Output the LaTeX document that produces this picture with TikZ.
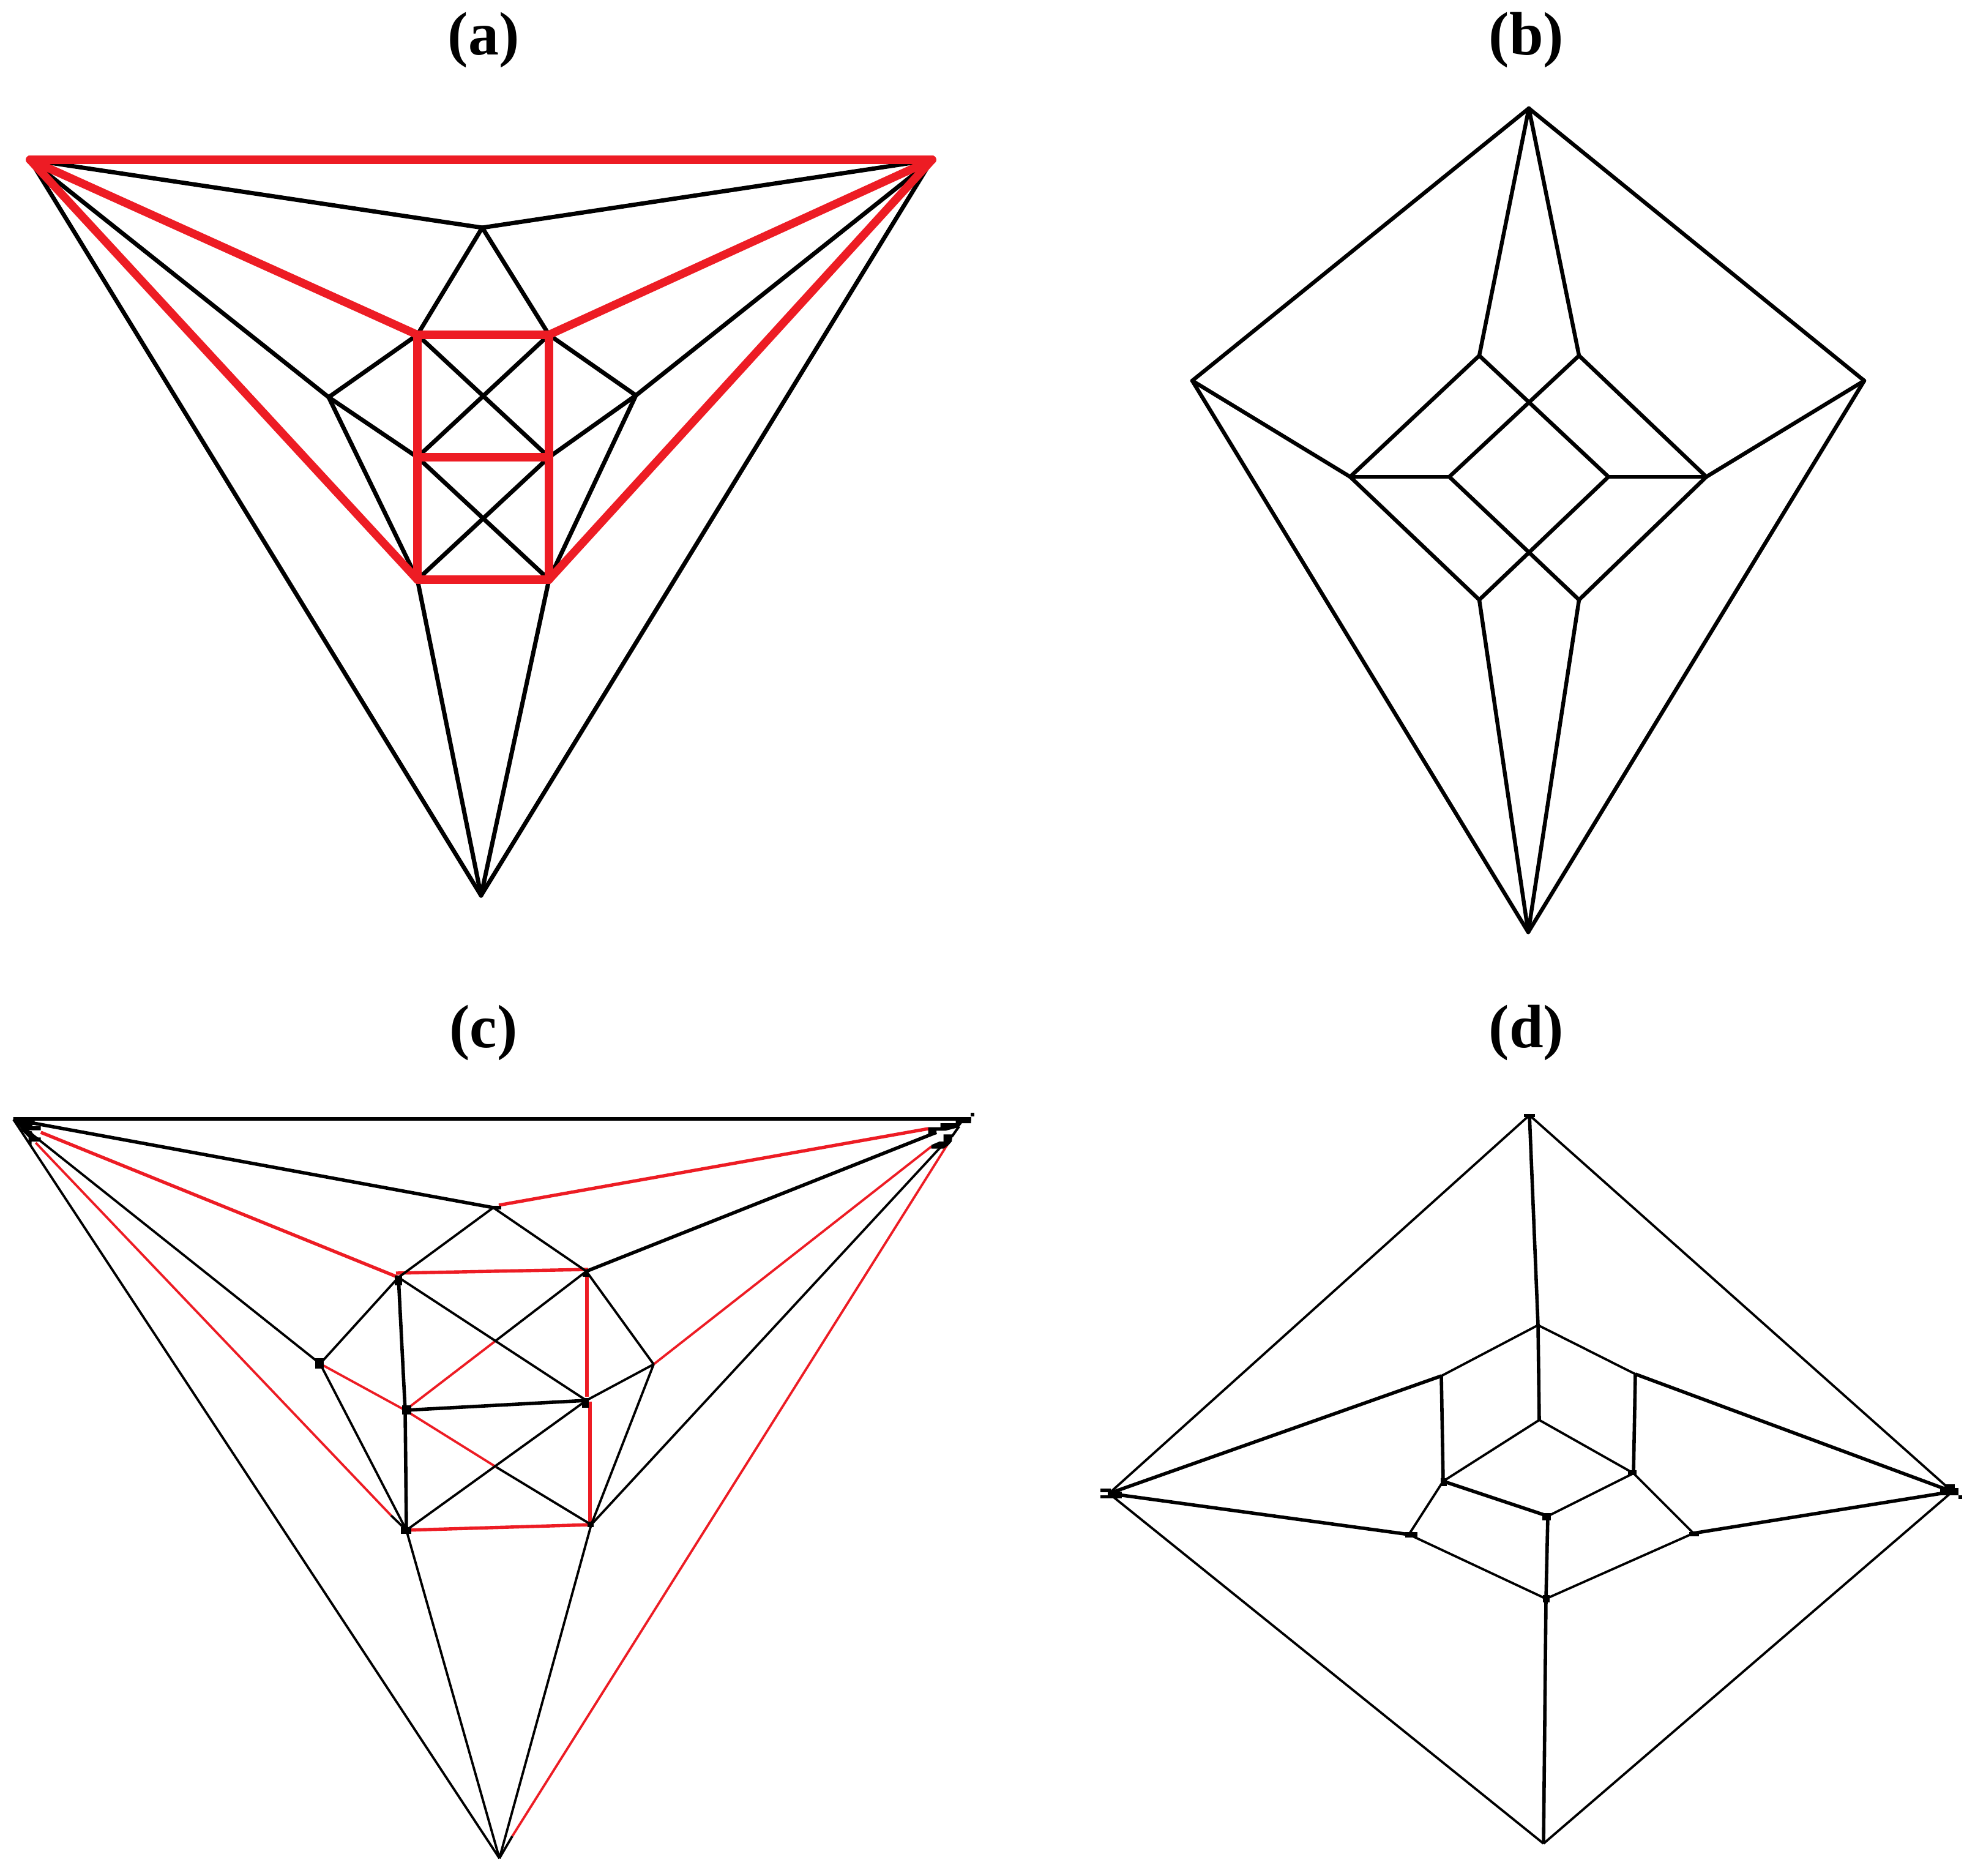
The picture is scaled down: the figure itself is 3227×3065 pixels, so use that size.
\documentclass[tikz,border=0pt]{standalone}
\usepackage{fontspec}
\setmainfont{Liberation Serif}
\definecolor{gred}{HTML}{ED1C24}
\tikzset{
  ablk/.style={black,line width=3.5pt,line cap=round},
  ared/.style={gred,line width=6.7pt,line cap=round},
  bblk/.style={black,line width=3.2pt,line cap=round},
  cthin/.style={black,line width=1.9pt},
  cthick/.style={black,line width=2.8pt},
  rthin/.style={gred,line width=1.9pt},
  rthick/.style={gred,line width=2.7pt},
  lbl/.style={font=\bfseries\fontsize{50pt}{60pt}\selectfont,anchor=base,inner sep=0pt}
}
\begin{document}
\begin{tikzpicture}[x=0.5pt,y=-0.5pt]
\useasboundingbox (0,0) rectangle (3227,3065);
\fill[white] (0,0) rectangle (3227,3065);
% labels
\node[lbl] (la) at (790,90) {(a)};
\node[lbl] (lb) at (2494,90) {(b)};
\node[lbl] (lc) at (790,1711) {(c)};
\node[lbl] (ld) at (2494,1711) {(d)};
% ---------- (a)
\coordinate (aTL) at (49,261); \coordinate (aTR) at (1523,261); \coordinate (aB) at (786,1463);
\coordinate (at) at (788,372);
\coordinate (aA) at (682,547); \coordinate (aAp) at (897,547);
\coordinate (aL) at (537,649); \coordinate (aR) at (1039,646);
\coordinate (aMl) at (682,747); \coordinate (aMr) at (897,747);
\coordinate (aBL) at (682,947); \coordinate (aBR) at (897,947);
\foreach \p/\q in {aTL/at,aTR/at,at/aA,at/aAp,aTL/aL,aTR/aR,aTL/aB,aTR/aB,aL/aA,aL/aMl,aL/aBL,aR/aAp,aR/aMr,aR/aBR,aA/aMr,aAp/aMl,aMl/aBR,aMr/aBL,aBL/aB,aBR/aB}
  \draw[ablk] (\p) -- (\q);
\foreach \p/\q in {aTL/aTR,aTL/aA,aTR/aAp,aTL/aBL,aTR/aBR,aA/aAp,aA/aBL,aAp/aBR,aMl/aMr,aBL/aBR}
  \draw[ared] (\p) -- (\q);
% ---------- (b)
\coordinate (bT) at (2498,177); \coordinate (bL) at (1948,622); \coordinate (bR) at (3046,622); \coordinate (bB) at (2497,1523);
\coordinate (ba1) at (2417,581); \coordinate (ba2) at (2580,581);
\coordinate (bb1) at (2206,779); \coordinate (bb2) at (2368,779); \coordinate (bb3) at (2628,779); \coordinate (bb4) at (2788,779);
\coordinate (bc1) at (2417,980); \coordinate (bc2) at (2580,980);
\foreach \p/\q in {bT/bL,bT/bR,bT/ba1,bT/ba2,bL/bb1,bR/bb4,bL/bB,bR/bB,bB/bc1,bB/bc2,bb1/bb2,bb3/bb4,ba1/bb1,ba2/bb4,bc1/bb1,bc2/bb4,ba1/bb3,ba2/bb2,bb2/bc2,bb3/bc1}
  \draw[bblk] (\p) -- (\q);
% ---------- (c)
\coordinate (cTL) at (22,1829); \coordinate (cTR) at (1578,1831); \coordinate (cB) at (816,3036);
\coordinate (cTLt) at (22,1828); \coordinate (cTRt) at (1587,1828);
\coordinate (cTLa) at (66.7,1850); \coordinate (cTLb) at (58.3,1867);
\coordinate (cTRa) at (1517,1844); \coordinate (cTRr) at (1522,1873); \coordinate (cTRb) at (1553,1862);
\coordinate (cTRk) at (1530,1850); \coordinate (cTRq) at (1550,1860);
\coordinate (cBr) at (837,3000); \coordinate (cBLr) at (639,2476);
\coordinate (ct) at (806,1973); \coordinate (ctr) at (815,1969);
\coordinate (cA) at (651,2087); \coordinate (cAr) at (647,2080);
\coordinate (cAp) at (958,2077); \coordinate (cApr) at (961,2074);
\coordinate (cL) at (523,2228); \coordinate (cR) at (1068,2229);
\coordinate (cMl) at (662,2304); \coordinate (cMr) at (958,2288);
\coordinate (cBL) at (664,2500); \coordinate (cBR) at (966,2491);
\coordinate (cC1) at (808,2192); \coordinate (cC2) at (811,2397);
\coordinate (cVa) at (959,2085); \coordinate (cVb) at (959,2282);
\coordinate (cVc) at (964,2290); \coordinate (cVd) at (964,2491);
% red parts
\draw[rthick] (cTLa) -- (cA);
\draw[rthin] (cTLb) -- (cBLr);
\draw[rthick] (ctr) -- (cTRa);
\draw[rthin] (cR) -- (cTRr);
\draw[rthin] (cBr) -- (cTRb);
\draw[rthick] (cAr) -- (cApr);
\draw[rthick] (cBL) -- (cBR);
\draw[rthin] (cL) -- (cMl);
\draw[rthin] (cMl) -- (cC1);
\draw[rthin] (cMl) -- (cC2);
\draw[rthick] (cVa) -- (cVb);
\draw[rthick] (cVc) -- (cVd);
% black parts
\draw[cthick] (cTLt) -- (cTRt);
\draw[cthick] (cTL) -- (ct);
\draw[cthick] (cAp) -- (cTRk);
\foreach \p/\q in {cTL/cL,cTL/cB,ct/cA,ct/cAp,cA/cL,cL/cBL,cAp/cR,cMr/cR,cR/cBR,cA/cMr,cAp/cC1,cC2/cBR,cMr/cBL,cBL/cB,cBR/cB,cBR/cTRq,cBr/cB,cBLr/cBL}
  \draw[cthin] (\p) -- (\q);
\draw[cthick] (cA) -- (cMl);
\draw[cthick] (cMl) -- (cBL);
\draw[cthick] (cMl) -- (cMr);
% vertex blobs of (c)
\fill[black] (21.7,1825) -- (56.7,1825) -- (56.7,1835) -- (51.7,1840) -- (66.7,1840) -- (66.7,1846.7) -- (41.7,1846.7) -- (51.7,1848.3) -- (56.7,1858.3) -- (66.7,1858.3) -- (66.7,1865) -- (51.7,1865) -- (51.7,1870) -- (46.7,1870) -- (46.7,1858.3) -- (36.7,1848.3) -- (31.7,1840) -- (26.7,1835) -- (21.7,1830) -- cycle;
\fill[black] (1516.7,1841.7) -- (1536.7,1841.7) -- (1536.7,1835) -- (1561.7,1835) -- (1561.7,1829.3) -- (1586.7,1829.3) -- (1586.7,1835) -- (1571.7,1835) -- (1566.7,1841.7) -- (1545,1847.3) -- (1530,1847.3) -- (1530,1853.3) -- (1516.7,1853.3) -- cycle;
\fill[black] (1541.7,1853.3) -- (1556.7,1853.3) -- (1555,1865) -- (1550,1870.7) -- (1541.7,1876.7) -- (1521.7,1876.7) -- (1521.7,1870.7) -- (1535,1865) -- (1541.7,1865) -- cycle;
\fill[black] (1552,1858) -- (1564,1841) -- (1569,1841) -- (1557,1858) -- cycle;
\fill[black] (1586,1818) rectangle (1592,1824);
\fill[black] (645,2084) rectangle (657,2100);
\fill[black] (657,2296) rectangle (672,2311);
\fill[black] (515,2219) rectangle (529,2236);
\fill[black] (951,2284) rectangle (962,2300);
\fill[black] (655,2495) rectangle (672,2506);
\fill[black] (800,1970) rectangle (819,1976);
\fill[black] (952,2080) rectangle (962,2086);
\fill[black] (960,2486) rectangle (970,2495);
% ---------- (d)
\coordinate (dT) at (2499,1822); \coordinate (dL) at (1812,2440); \coordinate (dR) at (3190,2437); \coordinate (dB) at (2522,3012);
\coordinate (dp) at (2513,2165); \coordinate (dUL) at (2355,2248); \coordinate (dUR) at (2672,2245);
\coordinate (dIT) at (2515,2320); \coordinate (dIL) at (2358,2420); \coordinate (dIR) at (2669,2407);
\coordinate (dCC) at (2529,2477); \coordinate (dOL) at (2302,2507); \coordinate (dOR) at (2767,2505);
\coordinate (dLW) at (2526,2612);
\foreach \p/\q in {dT/dL,dT/dR,dL/dB,dR/dB,dp/dUL,dp/dUR,dIT/dIL,dIT/dIR,dIL/dOL,dIR/dOR,dOL/dLW,dOR/dLW,dCC/dIR}
  \draw[cthin] (\p) -- (\q);
\foreach \p/\q in {dT/dp,dp/dIT,dUL/dIL,dUR/dIR,dCC/dLW,dLW/dB,dUL/dL,dUR/dR,dOL/dL,dOR/dR,dIL/dCC}
  \draw[cthick] (\p) -- (\q);
\fill[black] (1798,2432) rectangle (1815,2438);
\fill[black] (1810,2437) rectangle (1833,2448);
\fill[black] (1798,2443) rectangle (1827,2448);
\fill[black] (3170,2431) rectangle (3200,2443);
\fill[black] (3177,2425) rectangle (3194,2431);
\fill[black] (3200,2443) rectangle (3206,2449);
\fill[black] (2490,1820) rectangle (2508,1825);
\fill[black] (2520,2472) rectangle (2534,2484);
\fill[black] (2521,2606) rectangle (2532,2618);
\fill[black] (2660,2402) rectangle (2674,2410);
\fill[black] (2354,2415) rectangle (2364,2428);
\fill[black] (2296,2503) rectangle (2316,2512);
\fill[black] (2760,2503) rectangle (2776,2510);
\end{tikzpicture}
\end{document}
